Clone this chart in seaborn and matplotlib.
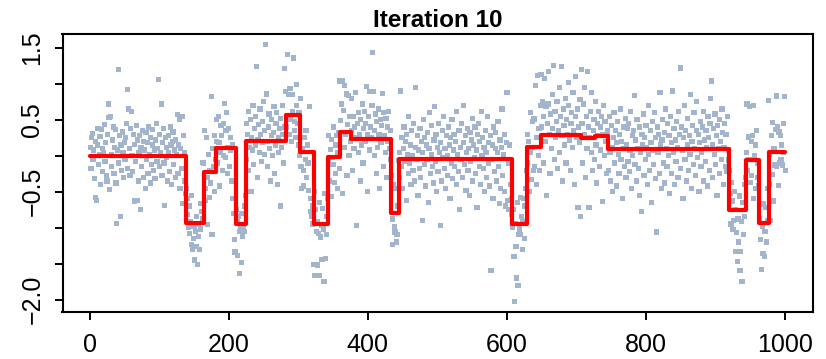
import numpy as np
import pandas as pd
import matplotlib
matplotlib.use("Agg")
import matplotlib.pyplot as plt
import seaborn as sns

# ---------------- data ----------------
title = "Iteration 10"

# step function (segment start x, level); last segment ends at x_end
step_starts = [1, 139, 164, 182, 210, 225, 282, 302, 322, 343, 360, 376, 434,
               445, 607, 629, 649, 707, 727, 745, 919, 944, 962, 976]
step_levels = [0.00, -0.93, -0.22, 0.11, -0.95, 0.21, 0.56, 0.05, -0.95, -0.02,
               0.33, 0.23, -0.79, -0.05, -0.95, 0.12, 0.29, 0.24, 0.27, 0.09,
               -0.75, -0.06, -0.93, 0.05]
x_end = 1000

# observations (x = 1..1000 in order), grouped by segment
obs_s01 = [0.12, -0.18, 0.25, 0.31, -0.05, 0.08, -0.32, 0.20, -0.58, -0.62,
           0.15, 0.38, -0.12, 0.02, 0.27, -0.40, 0.36, 0.10, -0.22, 0.05,
           0.44, -0.08, 0.18, -0.28, -0.35, 0.30, 0.72, 0.53, -0.47, 0.55,
           0.02, -0.15, 0.22, 0.40, -0.25, 0.12, 0.36, -0.38, -0.94, 0.08,
           1.20, -0.10, 0.28, -0.84, 0.15, -0.20, 0.33, 0.05, -0.30, 0.18,
           -0.05, 0.25, 0.45, -0.18, 0.92, 0.65, 0.10, -0.28, 0.38, 0.62,
           0.00, -0.22, 0.30, -0.63, 0.16, -0.08, 0.42, -0.62, 0.22, -0.35,
           0.05, 0.28, -0.75, 0.12, -0.15, 0.35, -0.30, 0.20, 0.08, -0.45,
           0.32, -0.05, 0.18, -0.25, 0.40, 0.02, -0.38, 0.25, -0.12, 0.15,
           0.36, -0.20, 0.08, -0.32, 0.22, 0.45, -0.08, 0.10, 1.06, -0.15,
           0.30, 0.05, 0.72, -0.28, 0.18, 0.38, -0.10, -0.69, 0.25, -0.02,
           0.12, -0.35, 0.28, 0.05, -0.22, 0.40, 0.15, -0.40, 0.20, 0.33,
           -0.12, 0.08, -0.30, 0.22, 0.02, 0.57, -0.25, 0.15, 0.51, -0.45,
           0.10, -0.18, 0.55, -0.66, 0.28, -0.35, 0.05, -0.52]
obs_s02 = [-0.45, -0.82, -0.60, -1.00, -0.70, -1.08, -0.92, -1.23, -0.55, -1.30,
           -1.15, -0.98, -1.45, -1.05, -1.26, -0.85, -1.51, -1.12, -0.95, -1.30,
           -0.66, -1.02, -0.78, -0.09, -0.88]
obs_s03 = [-0.10, 0.35, -0.45, -0.62, 0.25, -0.30, -0.96, 0.02, -0.58, -0.20,
           -0.38, 0.82, -1.10, 0.10, -0.15, -0.50, 0.28, -0.05]
obs_s04 = [0.50, 0.20, -0.10, 0.55, 0.18, -0.42, 0.05, 0.42, 0.28, -0.20,
           0.45, 0.00, 0.73, -0.02, 0.35, 0.60, -0.25, 0.12, 0.38, -0.15,
           0.08, 0.25, -0.35, 0.15, -0.60, -0.80, -1.16, -1.34]
obs_s05 = [-0.60, -0.75, -0.90, -1.39, -0.85, -1.05, -1.64, -1.00, -1.49, -0.80,
           -1.12, -0.98, -1.05, -0.70, -0.55]
obs_s06 = [0.45, -0.05, 0.30, 0.62, -0.20, 0.12, 0.50, -0.50, 0.25, 0.08,
           0.70, -0.12, 0.38, 0.15, 0.55, 1.24, -0.30, 0.22, 0.44, 0.05,
           0.65, 0.30, -0.08, 0.48, 0.18, 0.75, 0.02, 0.35, 1.55, 0.86,
           0.20, -0.15, 0.40, 0.58, 0.10, -0.35, 0.28, 0.50, 0.00, 0.32,
           0.68, -0.25, 0.15, 0.45, 0.60, -0.40, 0.25, 0.05, 0.38, -0.70,
           0.52, 0.12, 0.70, 0.30, -0.10, 1.21, 0.40]
obs_s07 = [0.89, 0.40, 1.41, 0.55, 0.85, 0.30, 0.93, 0.50, 0.20, 0.85,
           0.62, 1.36, 0.35, 0.48, 0.25, 0.70, 0.99, 0.45, 0.15, 0.60]
obs_s08 = [0.00, 0.80, -0.15, -0.45, 0.10, -0.20, -0.42, 0.25, -0.05, 0.35,
           -0.30, 0.15, -0.10, -0.48, 0.68, -0.60, -0.78, -0.85, -0.70, -0.95]
obs_s09 = [-1.51, -0.50, -1.66, -0.75, -1.05, -0.92, -1.52, -1.08, -0.65, -1.67,
           -1.13, -0.97, -1.44, -0.73, -1.02, -1.75, -0.52, -1.43, -0.85, -1.10,
           -0.60]
obs_s10 = [-0.08, 0.28, -0.35, 0.09, -0.57, 0.23, -0.02, -0.12, 0.40, -0.37,
           0.15, -0.25, 0.28, -0.45, 0.05, 0.32, -0.18]
obs_s11 = [1.04, 0.49, 0.72, -0.53, 1.04, 0.63, 0.11, 0.98, 0.30, 0.86,
           -0.28, 0.44, 0.84, 0.00, 0.55, 0.20]
obs_s12 = [0.80, 0.35, -0.20, 0.55, 0.10, 0.40, 0.88, 0.25, -0.97, 0.45,
           0.05, 0.60, 0.30, -0.35, 0.50, 0.15, 0.72, -0.10, 0.38, 0.62,
           0.20, 0.45, 0.96, -0.50, 0.30, 0.55, 0.08, 0.89, 0.40, 0.25,
           0.70, 1.44, 0.89, 0.00, 0.35, 0.58, -0.25, 0.48, 0.12, 0.65,
           0.30, -0.45, 0.50, 0.18, 0.42, 0.87, -0.15, 0.60, 0.28, 0.05,
           0.52, -0.30, 0.40, 0.20, 0.62, 0.10, -0.05, 0.35]
obs_s13 = [-0.27, -0.88, -1.23, -0.40, -0.98, -1.06, -0.45, -1.20, -1.10, -0.70,
           -0.07]
obs_s14 = [0.05, -0.30, 0.90, -0.15, 0.25, -0.45, 0.10, 0.40, -0.08, 0.20,
           -0.62, 0.30, 0.02, -0.25, 0.55, -0.10, 0.15, -0.40, 0.35, 0.00,
           -0.20, 0.45, -0.35, 0.12, 0.95, -0.05, 0.28, -0.55, 0.08, -0.18,
           0.38, -0.30, 0.20, -0.90, 0.05, 0.50, -0.12, 0.25, -0.42, 0.15,
           -0.05, 0.32, -0.65, 0.10, 0.60, -0.25, 0.02, 0.42, -0.15, -0.38,
           0.22, 0.68, -0.08, 0.30, -0.50, 0.12, -0.22, 0.45, 0.05, -0.97,
           0.18, -0.35, 0.35, -0.02, 0.55, -0.18, 0.10, -0.45, 0.28, 0.00,
           -0.28, 0.40, 0.15, -0.60, 0.25, -0.10, 0.50, -0.32, 0.08, 0.30,
           -0.15, 0.20, -0.40, 0.62, 0.02, -0.22, 0.35, -0.75, 0.12, -0.05,
           0.45, -0.30, 0.18, 0.70, -0.12, 0.28, -0.48, 0.05, 0.38, -0.20,
           0.10, -0.55, 0.32, -0.08, 0.22, 0.52, -0.35, 0.15, -0.02, 0.40,
           -0.25, 0.08, -0.72, 0.30, 0.45, -0.15, 0.20, -0.40, 0.62, 0.00,
           0.25, -0.18, 0.12, -0.50, 0.35, 0.05, -0.30, 0.55, -0.10, 0.18,
           -0.42, 0.28, -1.60, -0.05, 0.15, -0.60, 0.40, -0.22, 0.10, 0.32,
           -0.35, 0.05, 0.48, -0.15, -0.66, 0.22, -0.45, 0.12, 0.65, -0.28,
           0.02, -0.50, 0.30, -0.70, 0.18, 0.88, -0.62, -0.10, -0.75, 0.15,
           -0.40, -0.82]
obs_s15 = [-0.60, -1.00, -0.75, -1.40, -2.03, -0.94, -1.26, -1.70, -0.65, -1.80,
           -1.10, -1.02, -0.58, -1.10, -0.85, -1.30, -0.92, -0.60, -1.15, -0.70,
           -0.45, -0.20]
obs_s16 = [0.30, -0.10, 0.20, -0.50, 0.05, 0.60, -0.33, 0.12, 0.48, -0.20,
           0.51, -0.15, 0.98, 0.25, -0.40, 1.12, 0.00, 0.38, -0.20, 0.70]
obs_s17 = [1.13, 0.40, 0.75, -0.10, 0.55, 1.07, 0.20, 0.68, -0.55, 0.45,
           0.72, 1.17, 0.30, -0.25, 0.58, 0.10, 0.85, 0.38, 1.25, -0.05,
           0.62, 0.25, 0.48, 0.75, -0.18, 0.35, 0.95, 0.05, 0.55, 1.24,
           0.28, -0.35, 0.65, 0.42, 0.15, 0.80, -0.10, 0.50, 0.30, 1.02,
           0.70, 0.22, -0.20, 0.45, 0.60, 0.12, 0.88, 0.35, -0.40, 0.55,
           1.10, 0.25, 0.65, -0.72, 0.40, 0.18, 0.78, -0.85]
obs_s18 = [1.20, 0.45, -0.10, 0.72, 0.30, 0.95, -0.30, 0.55, 0.10, 1.17,
           0.40, -0.72, 0.25, 0.62, 0.05, 0.88, -0.20, 0.35, 0.50, -0.05,
           0.75, 0.15, -0.38, 0.45, 0.28, 0.62, -0.15, 0.40, 0.08, 0.55,
           -0.64, 0.30, 0.70, 0.00, 0.48, 0.20, -0.25, 0.35]
obs_s19 = [0.30, -0.20, 0.55, 0.05, -0.35, 0.42, 0.12, -0.50, 0.25, 0.60,
           -0.10, 0.35, 0.18, -0.42, 0.48, 0.02, -0.25, 0.30, 0.65, -0.05,
           0.20, -0.60, 0.40, 0.10, -0.15, 0.52, -0.30, 0.15, 0.38, -0.08,
           0.45, -0.22, 0.08, 0.62, -0.45, 0.28, 0.00, 0.35, 0.84, -0.12,
           0.22, -0.35, 0.50, 0.10, -0.18, 0.40, -0.55, 0.05, -0.78, 0.30,
           0.15, 0.58, -0.28, 0.25, -0.05, 0.42, 0.12, -0.40, 0.70, 0.02,
           -0.20, 0.35, 0.18, -0.65, 0.48, 0.08, -0.12, 0.60, 0.25, -0.32,
           -1.06, 0.40, 0.05, 0.30, -0.25, 0.88, 0.15, -0.45, 0.22, 0.50,
           -0.10, 0.32, -0.38, 0.65, 0.10, -0.15, 0.45, 0.00, 0.28, -0.52,
           0.55, 0.18, -0.25, 0.90, 0.05, 0.38, -0.40, 0.22, -0.08, 0.48,
           0.12, -0.30, 0.62, 0.30, 1.22, -0.18, 0.40, 0.08, -0.60, 0.25,
           0.70, -0.05, 0.35, -0.35, 0.15, 0.52, -0.20, 0.28, 0.02, 0.85,
           -0.45, 0.20, 0.42, -0.12, 0.60, 0.10, -0.28, 0.35, 0.75, -0.02,
           0.30, -0.50, 0.18, 0.48, -0.15, 0.05, 0.40, -0.35, 0.62, 0.22,
           -0.08, 0.35, 0.12, -0.42, 0.55, 0.25, -0.20, 0.45, 0.80, 1.04,
           0.15, -0.30, 0.38, 0.02, 0.58, -0.12, 0.28, -0.55, 0.42, 0.10,
           -0.25, 0.50, 0.20, -0.05, 0.65, 0.32, -0.40, 0.12, 0.45, -0.15,
           0.30, -0.22, 0.55, 0.08]
obs_s20 = [-0.06, -0.20, -0.52, -0.95, -0.37, -0.63, -1.03, -0.90, -0.50, -1.33,
           -0.75, -1.07, -1.47, -0.88, -1.20, -0.56, -1.60, -1.33, -0.91, -1.75,
           -0.65, -1.10, -0.40, -0.85, -0.30]
obs_s21 = [0.05, 0.72, -0.20, 0.26, -0.05, 0.68, -0.37, 0.20, -0.27, 0.28,
           0.70, -0.60, 0.00, 0.15, -0.45, 0.35, -0.10, -0.30]
obs_s22 = [-0.42, -0.87, -1.17, -0.68, -1.58, -0.98, -1.36, -0.66, -1.40, -1.05,
           -0.72, -1.20, -0.90, -0.45]
obs_s23 = [0.77, -0.40, 0.02, -0.90, 0.28, -0.26, 0.46, -0.63, 0.10, -0.13,
           0.36, 0.83, -0.15, 0.40, -0.41, 0.33, -0.10, 0.28, -0.06, 0.15,
           -0.13, 0.45, 0.05, 0.82, -0.20]

y_ticks = [-2.0, -1.5, -1.0, -0.5, 0.0, 0.5, 1.0, 1.5]
y_tick_labels = ["\u22122.0", "", "", "\u22120.5", "", "0.5", "", "1.5"]
x_ticks = [0, 200, 400, 600, 800, 1000]
x_tick_labels = ["0", "200", "400", "600", "800", "1000"]

# ---------------- build tables ----------------
obs_all = (obs_s01 + obs_s02 + obs_s03 + obs_s04 + obs_s05 + obs_s06 + obs_s07 +
           obs_s08 + obs_s09 + obs_s10 + obs_s11 + obs_s12 + obs_s13 + obs_s14 +
           obs_s15 + obs_s16 + obs_s17 + obs_s18 + obs_s19 + obs_s20 + obs_s21 +
           obs_s22 + obs_s23)
pts = pd.DataFrame({"x": np.arange(1, len(obs_all) + 1), "y": obs_all})
steps = pd.DataFrame({"x": step_starts + [x_end],
                      "y": step_levels + [step_levels[-1]]})

# ---------------- plot ----------------
sns.set_style("white")
plt.rcParams["font.family"] = ["Liberation Sans", "DejaVu Sans"]
plt.rcParams["text.color"] = "black"
plt.rcParams["xtick.color"] = "black"
plt.rcParams["ytick.color"] = "black"
plt.rcParams["axes.edgecolor"] = "black"

fig = plt.figure(figsize=(8.26, 3.59), dpi=100)
ax = fig.add_axes([62.5 / 826, 1 - 312 / 359, (813 - 62.5) / 826, (312 - 34) / 359])

sns.scatterplot(data=pts, x="x", y="y", ax=ax, marker="s", s=14,
                color="#A2B5CD", edgecolor="none", linewidth=0, zorder=2)
sns.lineplot(data=steps, x="x", y="y", ax=ax, estimator=None, sort=False,
             drawstyle="steps-post", color="#FF0000", linewidth=3.0,
             zorder=3, solid_joinstyle="round", solid_capstyle="round")

n = len(obs_all)
ymin, ymax = min(obs_all), max(obs_all)
ax.set_xlim(1 - 0.04 * (n - 1), n + 0.04 * (n - 1))
ax.set_ylim(ymin - 0.04 * (ymax - ymin), ymax + 0.04 * (ymax - ymin))

ax.set_xticks(x_ticks)
ax.set_xticklabels(x_tick_labels, fontsize=18, color="black")
ax.set_yticks(y_ticks)
ax.set_yticklabels(y_tick_labels, fontsize=18, rotation=90, va="center",
                   color="black")
ax.tick_params(axis="both", direction="out", length=6, width=1.4,
               color="black", left=True, bottom=True)
ax.tick_params(axis="x", pad=9)
ax.tick_params(axis="y", pad=7)

for sp in ax.spines.values():
    sp.set_visible(True)
    sp.set_color("black")
    sp.set_linewidth(1.5)

ax.set_xlabel("")
ax.set_ylabel("")
ax.set_title(title, fontsize=17.5, fontweight="bold", pad=5, color="black")

fig.savefig("out.png", dpi=100)
